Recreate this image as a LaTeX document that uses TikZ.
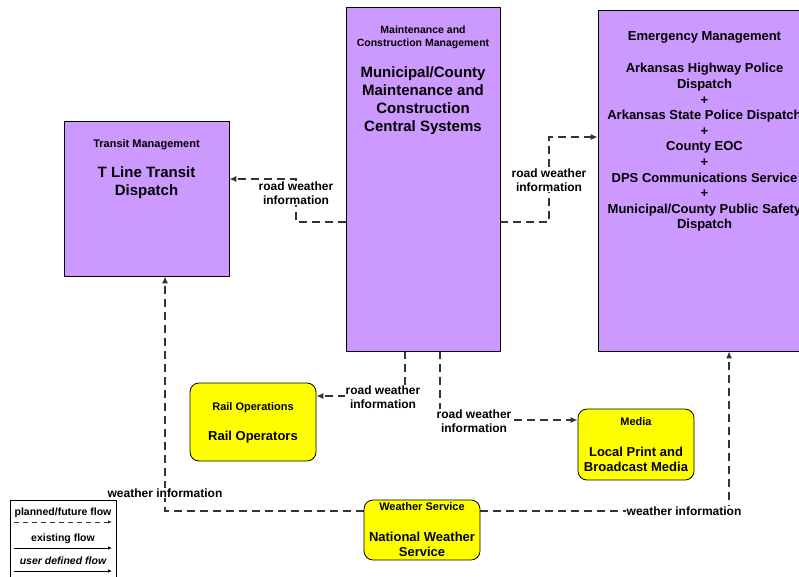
\documentclass[tikz,border=0pt]{standalone}
\usepackage{fontspec}
\setmainfont{Liberation Sans}
\usetikzlibrary{arrows.meta,backgrounds}
\definecolor{tmpurple}{RGB}{204,153,255}
\definecolor{tmyellow}{RGB}{255,255,0}
\tikzset{
  flowline/.style={draw=black!80, line width=1.3pt, dash pattern=on 8pt off 5pt, -{Latex[length=7pt,width=6pt]}},
  subsys/.style={draw, fill=tmpurple, line width=0.8pt, inner sep=0pt},
  term/.style={draw, fill=tmyellow, rounded corners=9pt, line width=0.8pt, inner sep=0pt},
  hdr/.style={font=\fontsize{11}{13}\selectfont\bfseries, align=center},
  ttl/.style={font=\fontsize{15}{18}\selectfont\bfseries, align=center},
  body/.style={font=\fontsize{13}{15}\selectfont\bfseries, align=center},
  flowlbl/.style={font=\fontsize{12}{14}\selectfont\bfseries, align=center, fill=white, inner sep=1pt},
  legtxt/.style={font=\fontsize{10.5}{12}\selectfont\bfseries},
}
\begin{document}
\begin{tikzpicture}[x=1pt, y=-1pt]
    \clip (0,0) rectangle (799,576);

    % 子系统（紫色）
    \node[subsys, minimum width=165pt, minimum height=155pt] (tlt) at (146.5,198.5) {};
    \node[hdr] (tltHdr) at ([yshift=-24pt]tlt.north) {Transit Management};
    \node[ttl] (tltTtl) at ([yshift=-62pt]tlt.north) {T Line Transit\\Dispatch};

    \node[subsys, minimum width=154pt, minimum height=344pt] (mcm) at (423,179) {};
    \node[hdr, font=\fontsize{10.5}{13}\selectfont\bfseries] (mcmHdr) at ([yshift=-31pt]mcm.north) {Maintenance and\\Construction Management};
    \node[ttl] (mcmTtl) at ([yshift=-94pt]mcm.north) {Municipal/County\\Maintenance and\\Construction\\Central Systems};

    \node[subsys, minimum width=213pt, minimum height=341pt] (em) at (704.5,180.5) {};
    \node[body] (emHdr) at ([yshift=-28pt]em.north) {Emergency Management};
    \node[body, font=\fontsize{13}{15.6}\selectfont\bfseries] (emTtl) at ([yshift=-138pt]em.north)
        {Arkansas Highway Police\\Dispatch\\+\\Arkansas State Police Dispatch\\+\\County EOC\\+\\DPS Communications Service\\+\\Municipal/County Public Safety\\Dispatch};

    % 终端（黄色）
    \node[term, minimum width=126pt, minimum height=78pt] (ro) at (253,422) {};
    \node[hdr] (roHdr) at ([yshift=-25pt]ro.north) {Rail Operations};
    \node[body] (roTtl) at ([yshift=-55pt]ro.north) {Rail Operators};

    \node[term, minimum width=116pt, minimum height=71pt] (med) at (636,444.5) {};
    \node[hdr] (medHdr) at ([yshift=-13pt]med.north) {Media};
    \node[body] (medTtl) at ([yshift=-51pt]med.north) {Local Print and\\Broadcast Media};

    \node[term, minimum width=116pt, minimum height=60pt] (nws) at (422,530) {};
    \node[hdr] (nwsHdr) at ([yshift=-7pt]nws.north) {Weather Service};
    \node[body] (nwsTtl) at ([yshift=-45pt]nws.north) {National Weather\\Service};

    % 信息流标注
    \node[flowlbl] (rw1) at (296,193) {road weather\\information};
    \node[flowlbl] (rw2) at (549,180) {road weather\\information};
    \node[flowlbl] (rw3) at (383,397) {road weather\\information};
    \node[flowlbl] (rw4) at (474,421) {road weather\\information};
    \node[flowlbl] (wi1) at (165,493) {weather information};
    \node[flowlbl] (wi2) at (684,511) {weather information};

    % 信息流
    \begin{scope}[on background layer]
        \draw[flowline] ([yshift=-43pt]mcm.west) -| (rw1.center) |- ([yshift=19.5pt]tlt.east);
        \draw[flowline] ([yshift=-43pt]mcm.east) -| (rw2.center) |- ([yshift=43.5pt]em.west);
        \draw[flowline] ([xshift=-18pt]mcm.south) |- ([yshift=26pt]ro.east);
        \draw[flowline] ([xshift=17pt]mcm.south) |- ([yshift=24.5pt]med.west);
        \draw[flowline] ([yshift=19pt]nws.west) -| ([xshift=18.5pt]tlt.south);
        \draw[flowline] ([yshift=19pt]nws.east) -| ([xshift=24.5pt]em.south);
    \end{scope}

    % 图例
    \draw[line width=0.8pt, fill=white] (10,500) rectangle (116,590);
    \node[legtxt] (lgPlan) at (63,513) {planned/future flow};
    \node[legtxt] (lgExist) at (63,539) {existing flow};
    \node[legtxt, font=\fontsize{10.5}{12}\selectfont\bfseries\itshape] (lgUser) at (63,561) {user defined flow};
    \coordinate (lgA) at (14,522);  \coordinate (lgB) at (112,522);
    \coordinate (lgC) at (14,548);  \coordinate (lgD) at (112,548);
    \coordinate (lgE) at (14,571);  \coordinate (lgF) at (112,571);
    \draw[flowline, line width=0.8pt, -{Latex[length=4pt,width=3.5pt]}, dash pattern=on 5pt off 4pt] (lgA) -- (lgB);
    \draw[line width=0.8pt, -{Latex[length=4pt,width=3.5pt]}] (lgC) -- (lgD);
    \draw[line width=0.8pt, -{Latex[length=4pt,width=3.5pt]}] (lgE) -- (lgF);
\end{tikzpicture}
\end{document}
